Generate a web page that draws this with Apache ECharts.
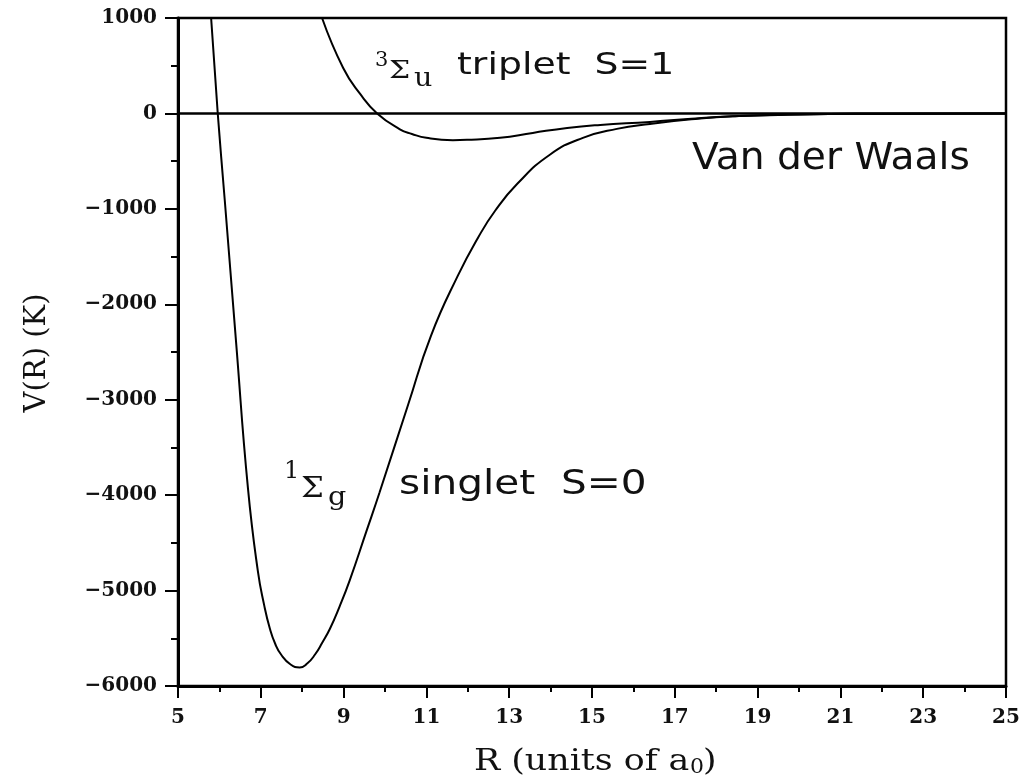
<!DOCTYPE html>
<html>
<head>
<meta charset="utf-8">
<script src="https://cdn.jsdelivr.net/npm/echarts@6/dist/echarts.min.js"></script>
<style>
  html, body { margin: 0; padding: 0; background: #fff; }
  #chart { width: 1031px; height: 775px; }
</style>
</head>
<body>
<div id="chart"></div>
<script>
// Interatomic separation R (units of a0) and potential V(R) (K)
const singletR = [5.80, 5.96, 6.13, 6.40, 6.69, 6.93, 7.08, 7.22, 7.35, 7.49, 7.72, 7.94, 8.12, 8.31, 8.48, 8.67, 8.90, 9.15, 9.55, 9.87, 10.56, 11.11, 11.76, 12.25, 12.66, 13.19, 13.99, 14.78, 15.6, 16.4, 17.4, 18.4, 20, 22, 25];
const singletV = [1000, 0, -912, -2380, -3930, -4800, -5150, -5400, -5560, -5670, -5775, -5805, -5765, -5670, -5550, -5400, -5170, -4890, -4380, -3970, -3050, -2330, -1700, -1300, -1020, -740, -430, -256, -162, -110, -62, -30, -10, -3, 0];

const tripletR = [8.48, 8.99, 9.4, 9.81, 10.36, 10.65, 11.0, 11.64, 11.98, 12.78, 13.57, 14.4, 15.2, 16.4, 17.4, 18.4, 20, 22, 25];
const tripletV = [1000, 476, 204, 0, -166, -215, -256, -280, -277, -256, -204, -152, -120, -89, -55, -30, -10, -3, 0];

const xTicks = { min: 5, max: 25, step: 2 };
const yTicks = { min: -6000, max: 1000, step: 1000 };

const zip = (xs, ys) => xs.map((x, i) => [x, ys[i]]);

const tickFont = '"DejaVu Serif", serif';
const chart = echarts.init(document.getElementById('chart'), null, { renderer: 'canvas' });

const curveStyle = { color: '#000', width: 2 };

chart.setOption({
  animation: false,
  backgroundColor: '#fff',
  grid: {
    left: 178, right: 25, top: 18, bottom: 89,
    show: true, borderColor: '#000', borderWidth: 2.5, backgroundColor: 'transparent'
  },
  xAxis: {
    type: 'value',
    min: xTicks.min, max: xTicks.max, interval: xTicks.step,
    axisLine: { show: true, onZero: false, lineStyle: { color: '#000', width: 3 } },
    axisTick: { show: true, inside: false, length: 12, lineStyle: { color: '#000', width: 2 } },
    minorTick: { show: true, splitNumber: 2, length: 6, lineStyle: { color: '#000', width: 2 } },
    splitLine: { show: false },
    axisLabel: { margin: 22, color: '#111', fontFamily: tickFont, fontWeight: 'bold', fontSize: 20 }
  },
  yAxis: {
    type: 'value',
    min: yTicks.min, max: yTicks.max, interval: yTicks.step,
    axisLine: { show: true, onZero: false, lineStyle: { color: '#000', width: 3 } },
    axisTick: { show: true, inside: false, length: 13, lineStyle: { color: '#000', width: 2 } },
    minorTick: { show: true, splitNumber: 2, length: 7, lineStyle: { color: '#000', width: 2 } },
    splitLine: { show: false },
    axisLabel: {
      margin: 21, color: '#111', fontFamily: tickFont, fontWeight: 'bold', fontSize: 20,
      formatter: v => (v < 0 ? '\u2212' + Math.abs(v) : String(v))
    }
  },
  series: [
    {
      name: 'singlet',
      type: 'line',
      data: zip(singletR, singletV),
      smooth: 0.5,
      showSymbol: false,
      clip: true,
      lineStyle: curveStyle,
      markLine: {
        silent: true,
        symbol: ['none', 'none'],
        label: { show: false },
        lineStyle: { color: '#000', width: 2.5, type: 'solid' },
        data: [{ yAxis: 0 }]
      }
    },
    {
      name: 'triplet',
      type: 'line',
      data: zip(tripletR, tripletV),
      smooth: 0.5,
      showSymbol: false,
      clip: true,
      lineStyle: curveStyle
    }
  ],
  graphic: [
    // triplet state label
    { type: 'text', x: 375, y: 61, style: { text: '3', font: '21px "DejaVu Serif"', fill: '#111', align: 'left', verticalAlign: 'middle', textAlign: 'left', textVerticalAlign: 'middle' } },
    { type: 'text', x: 389, y: 71, scaleX: 1.2, style: { text: '\u03A3', font: '25px "DejaVu Serif"', fill: '#111', align: 'left', verticalAlign: 'middle', textAlign: 'left', textVerticalAlign: 'middle' } },
    { type: 'text', x: 414, y: 79, scaleX: 1.1, style: { text: 'u', font: '26px "DejaVu Serif"', fill: '#111', align: 'left', verticalAlign: 'middle', textAlign: 'left', textVerticalAlign: 'middle' } },
    { type: 'text', x: 457, y: 66, scaleX: 1.22, style: { text: 'triplet  S=1', font: '31px "DejaVu Sans"', fill: '#111', align: 'left', verticalAlign: 'middle', textAlign: 'left', textVerticalAlign: 'middle' } },
    // singlet state label
    { type: 'text', x: 284, y: 472, style: { text: '1', font: '24px "DejaVu Serif"', fill: '#111', align: 'left', verticalAlign: 'middle', textAlign: 'left', textVerticalAlign: 'middle' } },
    { type: 'text', x: 301, y: 490, scaleX: 1.2, style: { text: '\u03A3', font: '27px "DejaVu Serif"', fill: '#111', align: 'left', verticalAlign: 'middle', textAlign: 'left', textVerticalAlign: 'middle' } },
    { type: 'text', x: 328, y: 498, scaleX: 1.1, style: { text: 'g', font: '26px "DejaVu Serif"', fill: '#111', align: 'left', verticalAlign: 'middle', textAlign: 'left', textVerticalAlign: 'middle' } },
    { type: 'text', x: 399, y: 485, scaleX: 1.23, style: { text: 'singlet  S=0', font: '33px "DejaVu Sans"', fill: '#111', align: 'left', verticalAlign: 'middle', textAlign: 'left', textVerticalAlign: 'middle' } },
    // long-range tail
    { type: 'text', x: 692, y: 159, scaleX: 1.03, style: { text: 'Van der Waals', font: '38px "DejaVu Sans"', fill: '#111', align: 'left', verticalAlign: 'middle', textAlign: 'left', textVerticalAlign: 'middle' } },
    // axis titles
    { type: 'text', x: 474, y: 762, scaleX: 1.2, style: { text: 'R (units of a', font: '29px "DejaVu Serif"', fill: '#111', align: 'left', verticalAlign: 'middle', textAlign: 'left', textVerticalAlign: 'middle' } },
    { type: 'text', x: 690, y: 768, scaleX: 1.1, style: { text: '0', font: '20px "DejaVu Serif"', fill: '#111', align: 'left', verticalAlign: 'middle', textAlign: 'left', textVerticalAlign: 'middle' } },
    { type: 'text', x: 703, y: 762, scaleX: 1.2, style: { text: ')', font: '29px "DejaVu Serif"', fill: '#111', align: 'left', verticalAlign: 'middle', textAlign: 'left', textVerticalAlign: 'middle' } },
    { type: 'text', x: 37, y: 353, rotation: Math.PI / 2, style: { text: 'V(R) (K)', font: '29px "DejaVu Serif"', fill: '#111', align: 'center', verticalAlign: 'middle', textAlign: 'center', textVerticalAlign: 'middle' } }
  ]
});
</script>
</body>
</html>
